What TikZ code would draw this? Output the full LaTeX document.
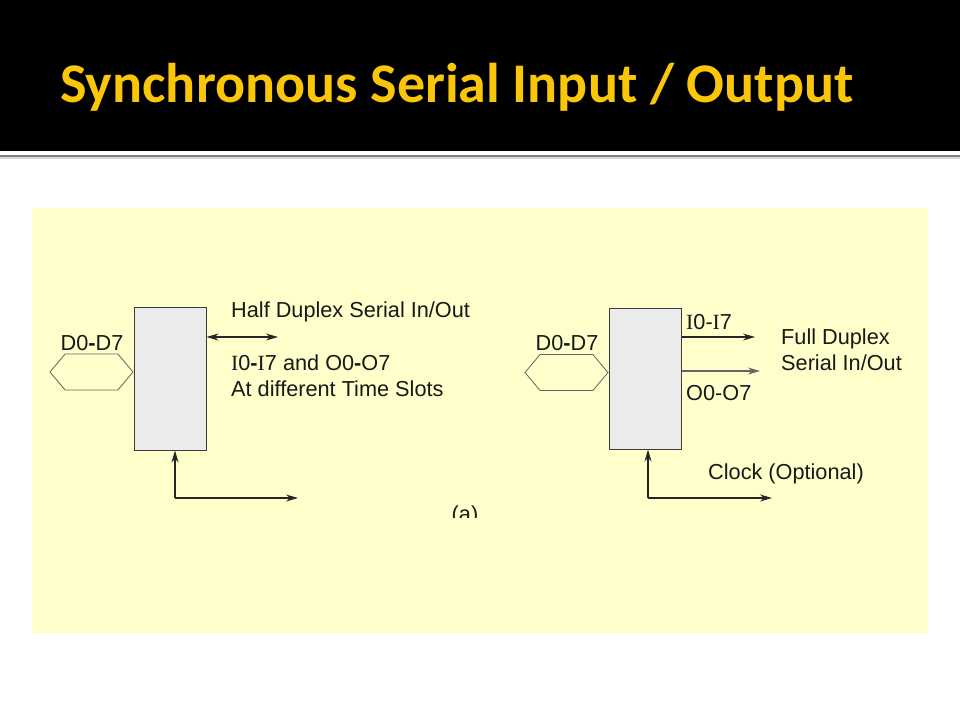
\documentclass[tikz,border=0pt]{standalone}
\usepackage{fontspec}
\setmainfont{Liberation Sans}
\newfontfamily\titlefont{Carlito}
\newfontfamily\serifI{Liberation Serif}
\usetikzlibrary{shapes}
\usetikzlibrary{positioning}
\usetikzlibrary{arrows.meta}
\definecolor{titleyellow}{RGB}{250,198,10}
\definecolor{panelyellow}{RGB}{255,255,204}
\definecolor{boxgray}{RGB}{235,235,235}
\definecolor{linegray}{RGB}{60,60,60}
\tikzset{
    mybox/.style = {rectangle, draw=linegray, line width=1pt, fill=boxgray, minimum width=72pt, minimum height=143pt, inner sep=0pt},
    myhex/.style = {signal, signal to=east and west, signal pointer angle=100, draw=linegray!80, line width=0.8pt, fill=panelyellow, minimum width=83pt, minimum height=36pt, inner sep=0pt},
    mylabel/.style = {inner sep=0pt, align=left, font=\fontsize{21.7}{26}\selectfont, text=black!90},
    mytitle/.style = {inner sep=0pt, font=\titlefont\bfseries\fontsize{56}{60}\selectfont, text=titleyellow},
    edgen/.style = {-{Stealth[length=12pt,width=7pt]}, line width=1.2pt, black!85}, % one way
    edged/.style = {{Stealth[length=12pt,width=7pt]}-{Stealth[length=12pt,width=7pt]}, line width=1.2pt, black!85}, % both ways
    edgeg/.style = {-{Stealth[length=12pt,width=7pt]}, line width=1.2pt, black!60}, % grey out
}
\newcommand{\Ii}{{\serifI I}}

\begin{document}
\begin{tikzpicture}[x=1pt,y=-1pt]
\useasboundingbox (0,0) rectangle (960,720);
% slide background
\fill[white] (0,0) rectangle (960,720);
\fill[black] (0,0) rectangle (960,151);
\fill[black!15] (0,157) rectangle (960,159);
\fill[black!50] (0,154.5) rectangle (960,157);
\node[mytitle, anchor=base west] at (60,102) (title) {Synchronous Serial Input / Output};
\fill[panelyellow] (32,208) rectangle (928,633);

% half duplex
\node[mybox] at (170,378.5) (lbox) {};
\node[myhex, anchor=east] at (lbox.west |- 0,372) (lhex) {};
\node[mylabel] at (92,343) (ldata) {D0\textbf{-}D7};
\coordinate (lser) at (278,337);
\draw[edged] (lbox.east |- lser) -- (lser);
\node[mylabel, anchor=west] at (231,312) (lhalf) {Half Duplex Serial In/Out};
\node[mylabel, anchor=west] at (231,376) (lslot) {\Ii0\textbf{-}\Ii7 and O0\textbf{-}O7\\At different Time Slots};
\coordinate (lclk) at (175,498);
\coordinate (lclke) at (298,498);
\draw[edgen] (lclk) -- (lclk |- lbox.south);
\draw[edgen] (lclk) -- (lclke);
\begin{scope}
\clip (400,480) rectangle (520,517);
\node[mylabel] at (465,516) (cap) {(a)};
\end{scope}

% full duplex
\node[mybox, minimum height=141pt] at (645,378.5) (rbox) {};
\node[myhex, anchor=east] at (rbox.west |- 0,372.5) (rhex) {};
\node[mylabel] at (567,343) (rdata) {D0\textbf{-}D7};
\coordinate (rin) at (755,337);
\coordinate (rout) at (760,371);
\draw[edgen] (rbox.east |- rin) -- (rin);
\draw[edgeg] (rbox.east |- rout) -- (rout);
\node[mylabel, anchor=west] at (686,322) (rinl) {\Ii0-\Ii7};
\node[mylabel, anchor=west] at (686,393) (routl) {O0-O7};
\node[mylabel, anchor=west] at (781,350) (rfull) {Full Duplex\\Serial In/Out};
\coordinate (rclk) at (648,498);
\coordinate (rclke) at (772,498);
\draw[edgen] (rclk) -- (rclk |- rbox.south);
\draw[edgen] (rclk) -- (rclke);
\node[mylabel, anchor=west] at (708,474) (rclkl) {Clock (Optional)};

\end{tikzpicture}
\end{document}
